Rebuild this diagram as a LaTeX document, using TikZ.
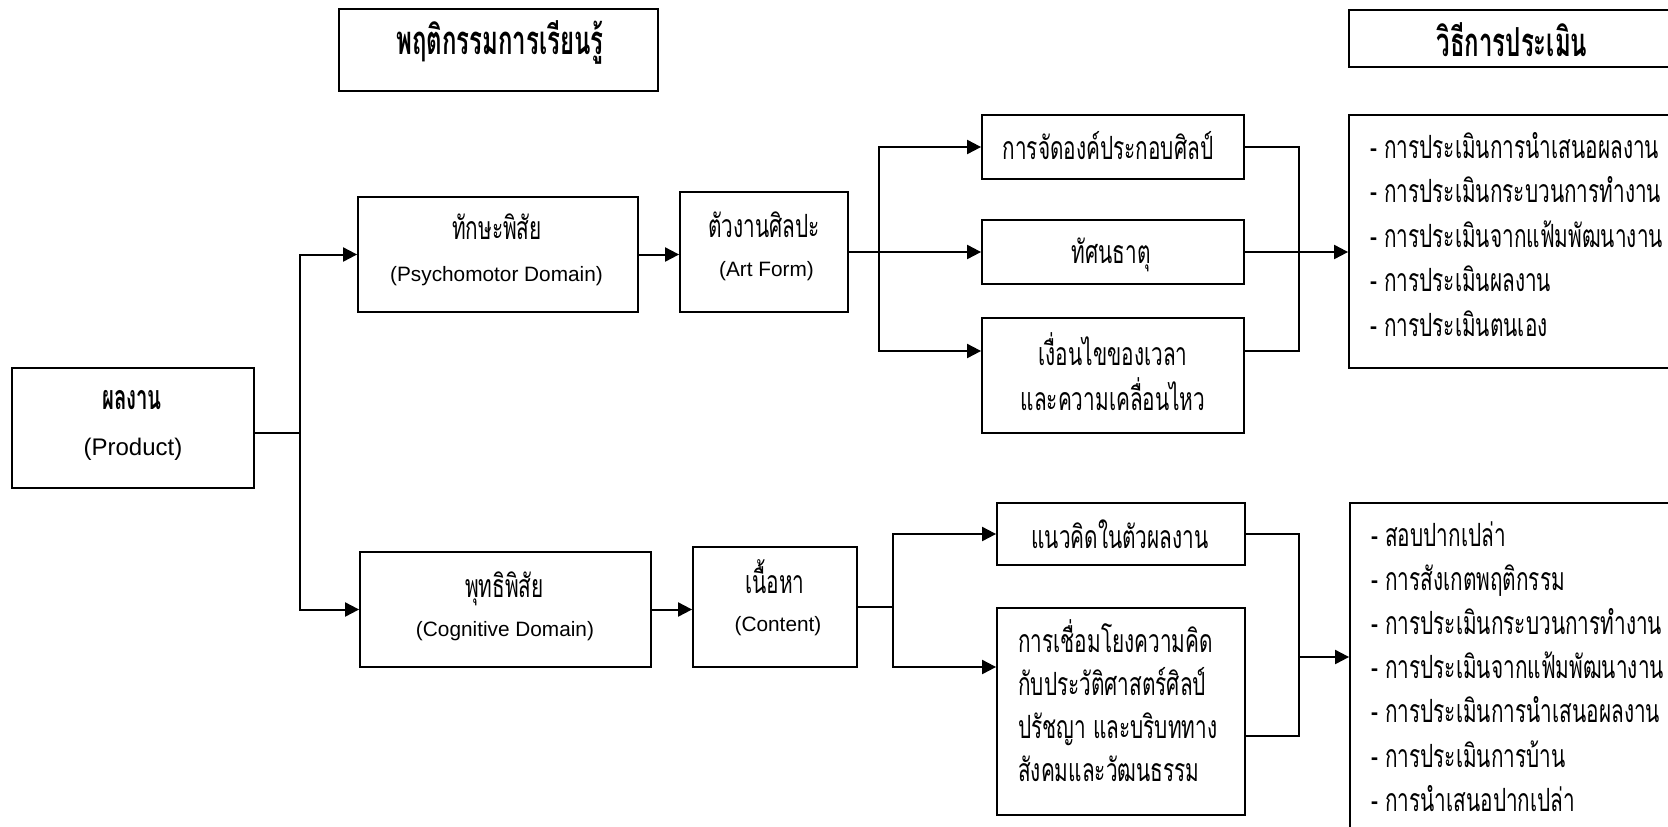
\documentclass[tikz,border=0pt]{standalone}
\usepackage{fontspec}
\usetikzlibrary{arrows.meta}
\setmainfont{Liberation Sans}
\newfontfamily\thai[Script=Thai,FakeStretch=0.65]{Loma}
\newfontfamily\thaiB[Script=Thai,FakeStretch=0.6]{Loma}
\tikzset{
  box/.style={draw, line width=1.8pt, inner sep=0pt},
  th/.style={inner sep=0pt, font=\thai\fontsize{32}{36}\selectfont, text height=22pt, text depth=0pt},
  thb/.style={inner sep=0pt, font=\thaiB\bfseries\fontsize{40}{44}\selectfont, text height=28pt, text depth=0pt},
  thbs/.style={inner sep=0pt, font=\thaiB\bfseries\fontsize{34}{38}\selectfont, text height=17pt, text depth=0pt},
  la/.style={inner sep=0pt, font=\fontsize{20.8}{24}\selectfont, text height=15pt, text depth=0pt},
  lab/.style={inner sep=0pt, font=\fontsize{24}{28}\selectfont, text height=17pt, text depth=0pt},
  arr/.style={line width=2pt, -{Triangle[length=14pt,width=14pt]}},
  thn/.style={line width=1.3pt},
  md/.style={line width=1.6pt},
}
\begin{document}
\begin{tikzpicture}[x=1pt,y=-1pt]
\useasboundingbox (0,0) rectangle (1668,827);
\clip (0,0) rectangle (1668,827);
% titles
\node[box, minimum width=319pt, minimum height=82pt] (t1) at (498.5,50) {};
\node[thb] (t1t) at (500,40) {พฤติกรรมการเรียนรู้};
\node[box, minimum width=360pt, minimum height=57pt] (t2) at (1529,38.5) {};
\node[thb] (t2t) at (1512,42.5) {วิธีการประเมิน};
% product
\node[box, minimum width=242pt, minimum height=120pt] (prod) at (133,428) {};
\node[thbs] (prodA) at (132,401) {ผลงาน};
\node[lab] (prodB) at (133,447) {(Product)};
% psychomotor
\node[box, minimum width=280pt, minimum height=115pt] (psy) at (498,254.5) {};
\node[th] (psyA) at (497,228) {ทักษะพิสัย};
\node[la] (psyB) at (496.5,274) {(Psychomotor Domain)};
% cognitive
\node[box, minimum width=291pt, minimum height=115pt] (cog) at (505.5,609.5) {};
\node[th] (cogA) at (504.5,586) {พุทธิพิสัย};
\node[la] (cogB) at (505,629) {(Cognitive Domain)};
% art form
\node[box, minimum width=168pt, minimum height=120pt] (art) at (764,252) {};
\node[th] (artA) at (764,226) {ตัวงานศิลปะ};
\node[la] (artB) at (766.5,269) {(Art Form)};
% content
\node[box, minimum width=164pt, minimum height=120pt] (cont) at (775,607) {};
\node[th] (contA) at (775,582) {เนื้อหา};
\node[la] (contB) at (778,624) {(Content)};
% middle boxes
\node[box, minimum width=262pt, minimum height=64pt] (m1) at (1113,147) {};
\node[th] (m1t) at (1108,148) {การจัดองค์ประกอบศิลป์};
\node[box, minimum width=262pt, minimum height=64pt] (m2) at (1113,252) {};
\node[th] (m2t) at (1111,252) {ทัศนธาตุ};
\node[box, minimum width=262pt, minimum height=115pt] (m3) at (1113,375.5) {};
\node[th] (m3a) at (1113,354) {เงื่อนไขของเวลา};
\node[th] (m3b) at (1113,399) {และความเคลื่อนไหว};
\node[box, minimum width=248pt, minimum height=62pt] (m4) at (1121,534) {};
\node[th] (m4t) at (1120,537) {แนวคิดในตัวผลงาน};
\node[box, minimum width=248pt, minimum height=207pt] (m5) at (1121,711.5) {};
\node[th, anchor=west] (m5a) at (1018,641) {การเชื่อมโยงความคิด};
\node[th, anchor=west] (m5b) at (1018,684) {กับประวัติศาสตร์ศิลป์};
\node[th, anchor=west] (m5c) at (1018,727) {ปรัชญา และบริบททาง};
\node[th, anchor=west] (m5d) at (1018,770) {สังคมและวัฒนธรรม};
% evaluation boxes
\node[box, minimum width=360pt, minimum height=253pt] (ev1) at (1529,241.5) {};
\foreach \t [count=\i] in {การประเมินการนำเสนอผลงาน, การประเมินกระบวนการทำงาน, การประเมินจากแฟ้มพัฒนางาน, การประเมินผลงาน, การประเมินตนเอง}
  \node[th, anchor=west] (ea\i) at (1370,{147+44.5*(\i-1)}) {- \t};
\node[box, minimum width=360pt, minimum height=400pt] (ev2) at (1530,703) {};
\foreach \t [count=\i] in {สอบปากเปล่า, การสังเกตพฤติกรรม, การประเมินกระบวนการทำงาน, การประเมินจากแฟ้มพัฒนางาน, การประเมินการนำเสนอผลงาน, การประเมินการบ้าน, การนำเสนอปากเปล่า}
  \node[th, anchor=west] (eb\i) at (1371,{535+44.2*(\i-1)}) {- \t};
% connectors: product
\coordinate (jp) at (300,433);
\draw[thn] ([yshift=-5pt]prod.east) -- (jp);
\draw[arr] (jp) |- (psy.west);
\draw[arr] (jp) |- (cog.west);
\draw[arr] (psy.east) -- (psy.east -| art.west);
\draw[arr] (cog.east) -- (cog.east -| cont.west);
% upper branch
\coordinate (ja) at (879,252);
\draw[thn] (art.east) -- (ja);
\draw[arr] (ja) |- (m1.west);
\draw[arr] (ja) -- (m2.west);
\draw[arr] (ja) |- ([yshift=24.5pt]m3.west);
\coordinate (jr1) at (1299,252);
\draw[md] (m1.east) -| (jr1);
\draw[md] ([yshift=24.5pt]m3.east) -| (jr1);
\draw[md] (m2.east) -- (jr1);
\draw[arr] (jr1) -- (jr1 -| ev1.west);
% lower branch
\coordinate (jc) at (893,607);
\draw[thn] (cont.east) -- (jc);
\draw[arr] (jc) |- (m4.west);
\draw[arr] (jc) |- ([yshift=44.5pt]m5.west);
\coordinate (jr2) at (1299,657);
\draw[md] (m4.east) -| (jr2);
\draw[md] ([yshift=-24.5pt]m5.east) -| (jr2);
\draw[arr] (jr2) -- (jr2 -| ev2.west);
\end{tikzpicture}
\end{document}
